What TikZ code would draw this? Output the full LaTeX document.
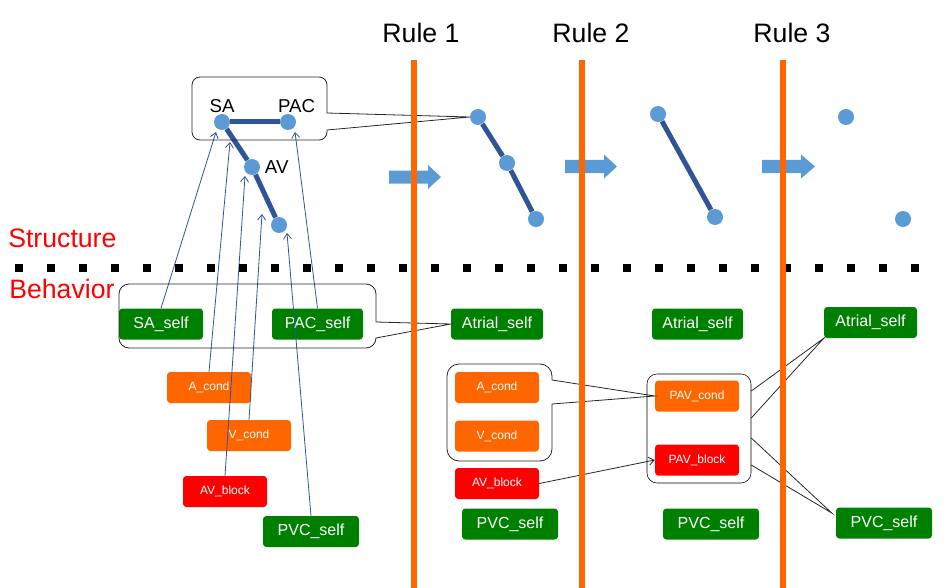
\documentclass[tikz,border=0pt]{standalone}
\usepackage{fontspec}
\setmainfont{Liberation Sans}
\usepackage{tikz}
\usepackage{xcolor}
\usetikzlibrary{positioning, arrows.meta, calc}

\definecolor{ruleorange}{RGB}{255,102,0}
\definecolor{selfgreen}{RGB}{0,128,0}
\definecolor{blockred}{RGB}{255,0,0}
\definecolor{dotblue}{RGB}{91,155,213}
\definecolor{edgeblue}{RGB}{47,85,151}

\begin{document}
\begin{tikzpicture}[x=0.75pt, y=-0.75pt,
    dot/.style={circle, fill=dotblue, inner sep=0pt, minimum size=12pt},
    edge/.style={edgeblue, line width=3.75pt},
    selfbox/.style={rectangle, rounded corners=2.5pt, fill=selfgreen, text=white, font=\fontsize{12}{14}\selectfont, minimum height=23.25pt, inner sep=0pt},
    condbox/.style={rectangle, rounded corners=2.5pt, fill=ruleorange, text=white, font=\fontsize{9}{11}\selectfont, minimum width=63pt, minimum height=23.25pt, inner sep=0pt},
    blockbox/.style={condbox, fill=blockred},
    mapsto/.style={edgeblue, line width=0.6pt, -{Straight Barb[length=4pt, width=6pt]}},
    pointer/.style={black!85, line width=0.6pt},
    ruletext/.style={font=\fontsize{20}{24}\selectfont},
    parttext/.style={text=red, anchor=west, inner sep=0pt, font=\fontsize{20}{24}\selectfont},
    every label/.append style={font=\fontsize{14}{17}\selectfont}]
    \useasboundingbox (0,0) rectangle (945,588);

    \node[ruletext] (rule1) at (421,33) {Rule 1};
    \node[ruletext] (rule2) at (591,33) {Rule 2};
    \node[ruletext] (rule3) at (792,33) {Rule 3};
    \node[parttext] (structure) at (8,238) {Structure};
    \node[parttext] (behavior) at (9,289) {Behavior};

    \node[dot, label={[label distance=-2.5pt]90:SA}] (sa) at (222,122) {};
    \node[dot, label={[label distance=-2.5pt, xshift=6.5pt]90:PAC}] (pac) at (288,122) {};
    \node[dot, label={0:AV}] (av) at (252,167) {};
    \node[dot] (vt) at (279,225) {};
    \node[dot] (r1a) at (478,117) {};
    \node[dot] (r1b) at (507,163) {};
    \node[dot] (r1c) at (536,219) {};
    \node[dot] (r2a) at (658,114) {};
    \node[dot] (r2b) at (715,217) {};
    \node[dot] (r3a) at (846,117) {};
    \node[dot] (r3b) at (903,219) {};

    \draw[edge] (sa) -- (pac);
    \draw[edge] (sa) -- (av);
    \draw[edge] (av) -- (vt);
    \draw[edge] (r1a) -- (r1b);
    \draw[edge] (r1b) -- (r1c);
    \draw[edge] (r2a) -- (r2b);

    \fill[dotblue] (389,170.5) -- (428,170.5) -- (428,165) -- (441,177) -- (428,189) -- (428,183.5) -- (389,183.5) -- cycle;
    \fill[dotblue] (565,160) -- (604,160) -- (604,154.5) -- (617,166.5) -- (604,178.5) -- (604,173) -- (565,173) -- cycle;
    \fill[dotblue] (762,160) -- (801,160) -- (801,154.5) -- (815,166.5) -- (801,178.5) -- (801,173) -- (762,173) -- cycle;

    \node[selfbox, minimum width=63pt] (saself) at (161,324) {SA\_self};
    \node[selfbox, minimum width=68.25pt] (pacself) at (317.5,324) {PAC\_self};
    \node[condbox] (acond) at (209,387.5) {A\_cond};
    \node[condbox] (vcond) at (249,435.5) {V\_cond};
    \node[blockbox] (avblock) at (225,491.5) {AV\_block};
    \node[selfbox, minimum width=72pt] (pvcself) at (311,531.5) {PVC\_self};

    \node[selfbox, minimum width=69pt] (atr1) at (497,324) {Atrial\_self};
    \node[condbox] (acond1) at (497,387.5) {A\_cond};
    \node[condbox] (vcond1) at (497,436) {V\_cond};
    \node[blockbox] (avb1) at (497,483.5) {AV\_block};
    \node[selfbox, minimum width=72pt] (pvc1) at (510,524) {PVC\_self};

    \node[selfbox, minimum width=68.25pt] (atr2) at (697.5,324) {Atrial\_self};
    \node[draw, rounded corners=7.5pt, minimum width=78pt, minimum height=81.75pt] (pavbox) at (699,428.5) {};
    \node[condbox] (pavc) at (697,396) {PAV\_cond};
    \node[blockbox] (pavb) at (697,460) {PAV\_block};
    \node[selfbox, minimum width=72pt] (pvc2) at (711,524) {PVC\_self};

    \node[selfbox, minimum width=69.75pt] (atr3) at (870.5,322.5) {Atrial\_self};
    \node[selfbox, minimum width=72pt] (pvc3) at (884,523) {PVC\_self};

    \coordinate (sain) at (216,132);
    \coordinate (pacin) at (295,132);
    \coordinate (saav) at (230,142);
    \coordinate (avin) at (245,176);
    \coordinate (avvt) at (262,214);
    \coordinate (vtin) at (287,233);

    \draw[mapsto] (saself.north) -- (sain);
    \draw[mapsto] (pacself.north) -- (pacin);
    \draw[mapsto] (acond.north) -- (saav);
    \draw[mapsto] (avblock.north) -- (avin);
    \draw[mapsto] (vcond.north) -- (avvt);
    \draw[mapsto] (pvcself.north) -- (vtin);

    \draw[pointer] (r1a.west) -- (327,130) [rounded corners=6pt] -- (327,140) -- (192,140) -- (192,77) -- (327,77) [sharp corners] -- (327,113) -- cycle;
    \draw[pointer] (atr1.west) -- (376,338) [rounded corners=7.5pt] -- (376,348) -- (119,348) -- (119,284) -- (376,284) [sharp corners] -- (376,322) -- cycle;
    \draw[pointer] (pavc.west) -- (552,404) [rounded corners=9pt] -- (552,461) -- (447,461) -- (447,364) -- (552,364) [sharp corners] -- (552,380) -- cycle;

    \draw[pointer, -{Straight Barb[length=4pt, width=6pt]}] (avb1.east) -- (pavb.west);
    \draw[pointer] ($(pavbox.east)+(0,-37.5)$) -- (atr3.south west) -- ($(pavbox.east)+(0,-10.5)$);
    \draw[pointer] ($(pavbox.east)+(0,9.5)$) -- ($(pvc3.west)+(-4,-10)$) -- ($(pavbox.east)+(0,36.5)$);

    \draw[line width=6pt, dash pattern=on 5.75pt off 18.25pt] (15,268) -- (922,268);

    \draw[ruleorange, line width=4pt] (414,60) -- (414,588);
    \draw[ruleorange, line width=4pt] (582,60) -- (582,588);
    \draw[ruleorange, line width=4pt] (783,60) -- (783,588);
\end{tikzpicture}
\end{document}
